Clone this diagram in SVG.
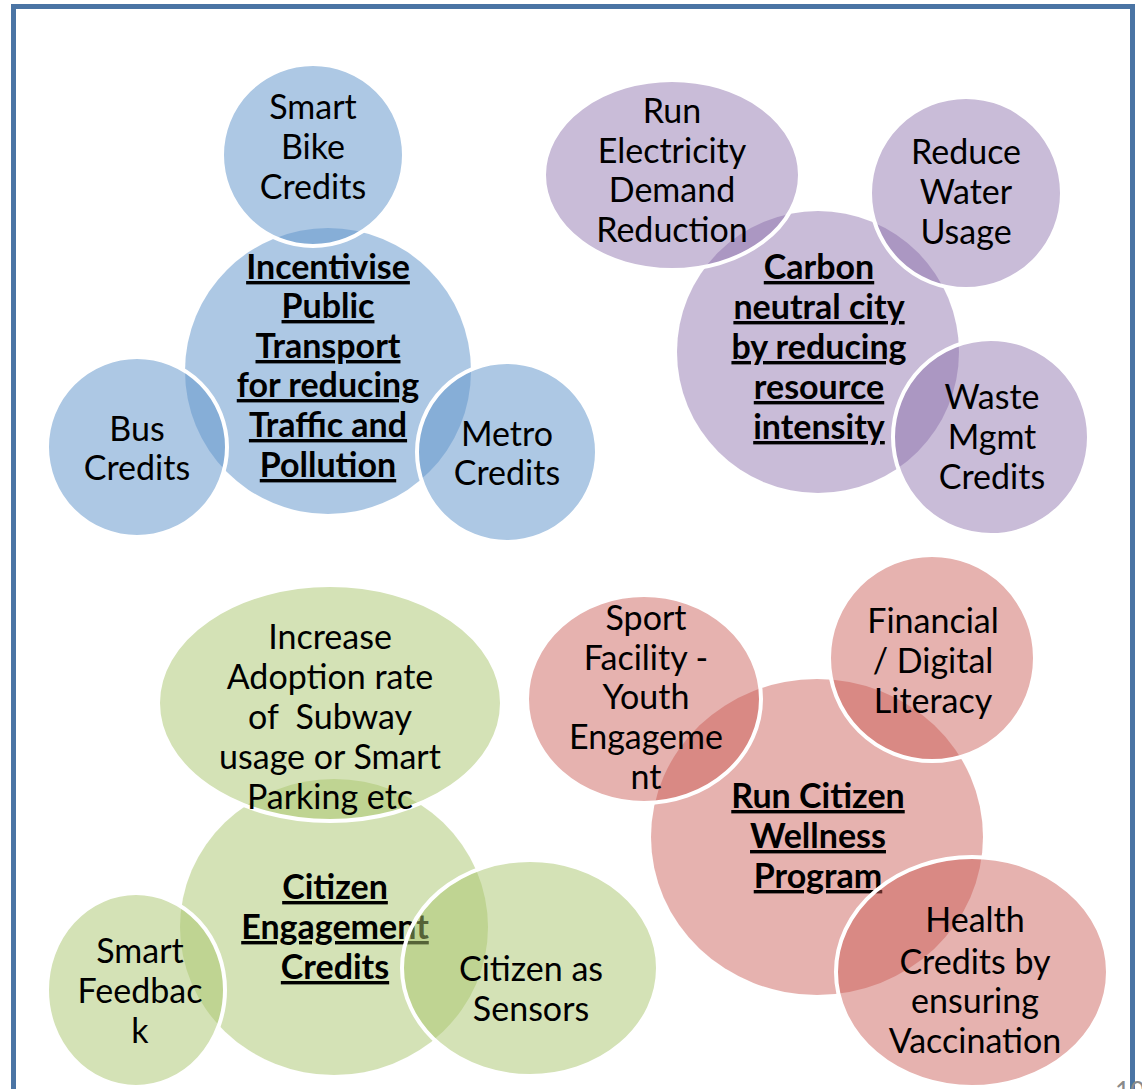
<svg xmlns="http://www.w3.org/2000/svg" width="1142" height="1089" viewBox="0 0 1142 1089">
  <style>
    .t { font-family: Lato, "Liberation Sans", sans-serif; font-size: 34px; text-anchor: middle; fill: #000; }
    .b { font-weight: bold; text-decoration: underline; }
    .sat { stroke: #ffffff; stroke-width: 4; }
    .blue { fill: rgb(100,151,204); fill-opacity: 0.53; }
    .purple { fill: rgb(135,106,168); fill-opacity: 0.45; }
    .green { fill: rgb(169,197,109); fill-opacity: 0.5; }
    .red { fill: rgb(202,91,85); fill-opacity: 0.47; }
  </style>

  <rect width="1142" height="1089" fill="#ffffff"/>
  <!-- slide frame -->
  <rect x="13.5" y="6.5" width="1119" height="1110" fill="none" stroke="#4a74a4" stroke-width="5"/>
  <text x="1115" y="1101" style="font-family: Lato, 'Liberation Sans', sans-serif; font-size: 26px; fill: #8a8a8a;">10</text>

  <g id="connectors"></g>

  <!-- Transport cluster -->
  <g id="transport-center">
    <circle class="blue" cx="328" cy="371" r="143"/>
    <text class="t b" x="328"><tspan x="328" y="279">Incentivise</tspan><tspan x="328" y="318">Public</tspan><tspan x="328" y="358">Transport</tspan><tspan x="328" y="397">for reducing</tspan><tspan x="328" y="437">Traffic and</tspan><tspan x="328" y="477">Pollution</tspan></text>
  </g>
  <g id="smart-bike">
    <circle class="blue sat" cx="313" cy="155" r="91"/>
    <text class="t"><tspan x="313" y="119">Smart</tspan><tspan x="313" y="159">Bike</tspan><tspan x="313" y="199">Credits</tspan></text>
  </g>
  <g id="bus-credits">
    <circle class="blue sat" cx="137" cy="447" r="90"/>
    <text class="t"><tspan x="137" y="441">Bus</tspan><tspan x="137" y="480">Credits</tspan></text>
  </g>
  <g id="metro-credits">
    <circle class="blue sat" cx="507" cy="452" r="90"/>
    <text class="t"><tspan x="507" y="446">Metro</tspan><tspan x="507" y="485">Credits</tspan></text>
  </g>

  <!-- Carbon cluster -->
  <g id="carbon-center">
    <circle class="purple" cx="818" cy="352" r="141"/>
    <text class="t b"><tspan x="819" y="279">Carbon</tspan><tspan x="819" y="319">neutral city</tspan><tspan x="819" y="359">by reducing</tspan><tspan x="819" y="399">resource</tspan><tspan x="819" y="439">intensity</tspan></text>
  </g>
  <g id="electricity">
    <ellipse class="purple sat" cx="672" cy="175" rx="128" ry="95"/>
    <text class="t"><tspan x="672" y="123">Run</tspan><tspan x="672" y="163">Electricity</tspan><tspan x="672" y="202">Demand</tspan><tspan x="672" y="242">Reduction</tspan></text>
  </g>
  <g id="water">
    <circle class="purple sat" cx="966" cy="193" r="96"/>
    <text class="t"><tspan x="966" y="164">Reduce</tspan><tspan x="966" y="204">Water</tspan><tspan x="966" y="244">Usage</tspan></text>
  </g>
  <g id="waste">
    <circle class="purple sat" cx="991" cy="437" r="98"/>
    <text class="t"><tspan x="992" y="409">Waste</tspan><tspan x="992" y="449">Mgmt</tspan><tspan x="992" y="489">Credits</tspan></text>
  </g>

  <!-- Engagement cluster -->
  <g id="engagement-center">
    <ellipse class="green" cx="334" cy="927" rx="154" ry="148"/>
    <text class="t b"><tspan x="335" y="899">Citizen</tspan><tspan x="335" y="939">Engagement</tspan><tspan x="335" y="979">Credits</tspan></text>
  </g>
  <g id="adoption">
    <ellipse class="green sat" cx="330" cy="703" rx="172" ry="118"/>
    <text class="t"><tspan x="330" y="649">Increase</tspan><tspan x="330" y="689">Adoption rate</tspan><tspan x="330" y="729">of&#160; Subway</tspan><tspan x="330" y="769">usage or Smart</tspan><tspan x="330" y="809">Parking etc</tspan></text>
  </g>
  <g id="feedback">
    <ellipse class="green sat" cx="136" cy="990" rx="89" ry="97"/>
    <text class="t"><tspan x="140" y="963">Smart</tspan><tspan x="140" y="1003">Feedbac</tspan><tspan x="140" y="1043">k</tspan></text>
  </g>
  <g id="sensors">
    <ellipse class="green sat" cx="530" cy="968" rx="128" ry="108"/>
    <text class="t"><tspan x="531" y="981">Citizen as</tspan><tspan x="531" y="1021">Sensors</tspan></text>
  </g>

  <!-- Wellness cluster -->
  <g id="wellness-center">
    <ellipse class="red" cx="817" cy="837" rx="166" ry="158"/>
    <text class="t b"><tspan x="818" y="808">Run Citizen</tspan><tspan x="818" y="848">Wellness</tspan><tspan x="818" y="888">Program</tspan></text>
  </g>
  <g id="sport">
    <ellipse class="red sat" cx="644" cy="699" rx="117" ry="104"/>
    <text class="t"><tspan x="646" y="630">Sport</tspan><tspan x="646" y="670">Facility -</tspan><tspan x="646" y="709">Youth</tspan><tspan x="646" y="749">Engageme</tspan><tspan x="646" y="789">nt</tspan></text>
  </g>
  <g id="literacy">
    <circle class="red sat" cx="932" cy="658" r="103"/>
    <text class="t"><tspan x="933" y="633">Financial</tspan><tspan x="933" y="673">/ Digital</tspan><tspan x="933" y="713">Literacy</tspan></text>
  </g>
  <g id="health">
    <ellipse class="red sat" cx="972" cy="972" rx="136" ry="115"/>
    <text class="t"><tspan x="975" y="932">Health</tspan><tspan x="975" y="974">Credits by</tspan><tspan x="975" y="1013">ensuring</tspan><tspan x="975" y="1053">Vaccination</tspan></text>
  </g>
</svg>
